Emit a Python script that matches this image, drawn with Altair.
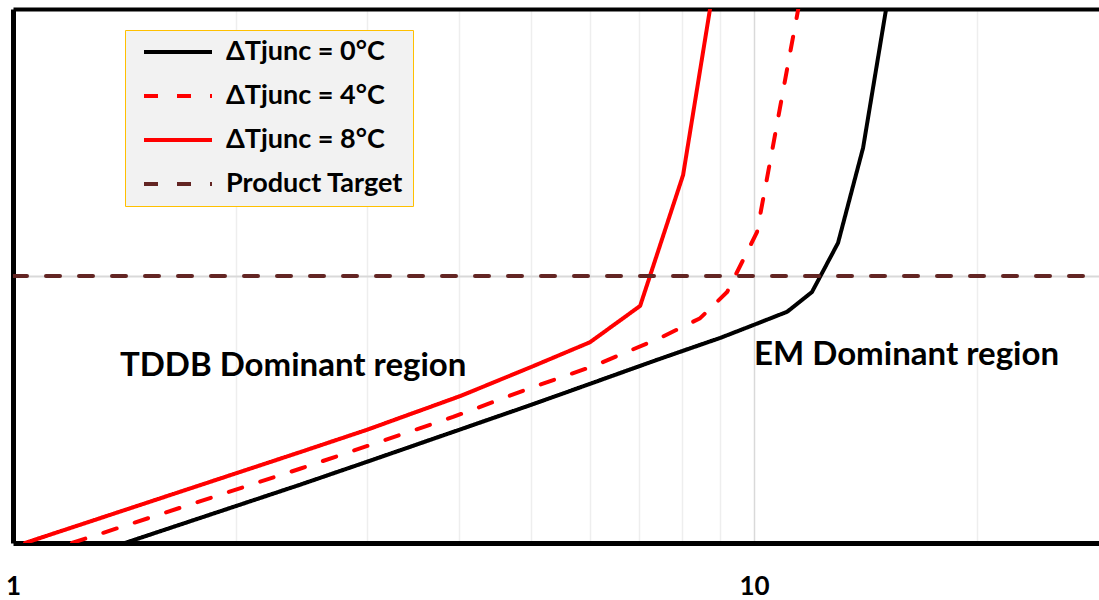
import altair as alt
import pandas as pd

# ---- data ----
names = ["ΔTjunc = 0°C", "ΔTjunc = 4°C", "ΔTjunc = 8°C", "Product Target"]
colors = ["#000000", "#ff0000", "#ff0000", "#632523"]
dashes = [[1, 0], [14, 19], [1, 0], [14, 19]]
widths = [4, 4, 4, 5]

x0 = [1.416, 2.439, 3.032, 3.888, 4.985, 6.006, 7.397, 8.999, 9.97, 11.08, 11.97, 12.98, 14.03, 15.07]
y0 = [0, 10.9, 15.4, 20.6, 25.8, 29.8, 34.3, 38.4, 40.8, 43.3, 47.0, 56.2, 74.0, 100]
x4 = [1.201, 2.439, 3.925, 5.03, 6.062, 7.466, 8.456, 9.195, 10.09, 10.58, 11.01, 11.47]
y4 = [0, 13.9, 23.6, 29.2, 33.1, 38.4, 42.1, 47.0, 58.2, 73.6, 86.7, 100]
x8 = [1.038, 2.439, 3.004, 4.011, 5.03, 6.006, 7.018, 8.02, 8.72]
y8 = [0, 17.0, 21.2, 27.5, 33.1, 37.6, 44.4, 68.9, 100]
target_x = [1, 29.2]
target_y = [50, 50]

x_domain = [1, 29.2]
y_domain = [0, 100]
x_tick_values = [1, 2, 3, 4, 5, 6, 7, 8, 9, 10, 20]

ann_text = ["TDDB Dominant region", "EM Dominant region"]
ann_x = [1.394, 10.0]
ann_y = [33.1, 35.2]

rows = []
for name, xs, ys in zip(names, [x0, x4, x8, target_x], [y0, y4, y8, target_y]):
    for i, (xv, yv) in enumerate(zip(xs, ys)):
        rows.append({"series": name, "x": xv, "y": yv, "i": i})
df = pd.DataFrame(rows)
ann = pd.DataFrame({"text": ann_text, "x": ann_x, "y": ann_y})

FONT = "Lato"

xscale = alt.Scale(type="log", domain=x_domain, nice=False)
yscale = alt.Scale(domain=y_domain, nice=False)

legend = alt.Legend(
    title=None, orient="none", legendX=112, legendY=21,
    symbolType="stroke", symbolSize=4624, symbolStrokeWidth=4, symbolOffset=8,
    labelFont=FONT, labelFontSize=27, labelFontWeight="bold", labelColor="black",
    labelLimit=400, clipHeight=26,
    fillColor="#f2f2f2", strokeColor="#ffc000", padding=9, rowPadding=17,
    labelOffset=12,
)

lines = alt.Chart(df).mark_line(strokeCap="round", strokeJoin="round", clip=True).encode(
    x=alt.X("x:Q", scale=xscale, axis=alt.Axis(
        values=x_tick_values,
        labelExpr="datum.value == 1 || datum.value == 10 ? format(datum.value, 'd') : ''",
        ticks=False, domainColor="black", domainWidth=5,
        gridColor={"condition": {"test": "datum.value == 10", "value": "#d9d9d9"}, "value": "#eeeeee"},
        gridWidth=1.5,
        labelFont=FONT, labelFontSize=26, labelFontWeight="bold", labelColor="black",
        labelPadding=30, labelFlush=False, labelOverlap=False, title=None)),
    y=alt.Y("y:Q", scale=yscale, axis=alt.Axis(
        values=[50, 100], labels=False, ticks=False,
        domainColor="black", domainWidth=5,
        gridColor={"condition": {"test": "datum.value == 100", "value": "black"}, "value": "#d9d9d9"},
        gridWidth={"condition": {"test": "datum.value == 100", "value": 4}, "value": 2},
        title=None)),
    color=alt.Color("series:N", scale=alt.Scale(domain=names, range=colors), legend=legend),
    strokeDash=alt.StrokeDash("series:N", scale=alt.Scale(domain=names, range=dashes), legend=legend),
    strokeWidth=alt.StrokeWidth("series:N", scale=alt.Scale(domain=names, range=widths), legend=legend),
    order="i:Q",
)

texts = alt.Chart(ann).mark_text(
    align="left", baseline="middle", font=FONT, fontSize=33, fontWeight="bold", color="black"
).encode(x=alt.X("x:Q", scale=xscale), y=alt.Y("y:Q", scale=yscale), text="text:N")

chart = alt.layer(lines, texts).properties(
    width=1086, height=534,
    autosize=alt.AutoSizeParams(type="none"),
    padding={"left": 13, "top": 9, "right": 0, "bottom": 57},
    background="white",
).configure_view(stroke=None)

chart.save("out.html", embed_options={"renderer": "svg", "actions": False})
